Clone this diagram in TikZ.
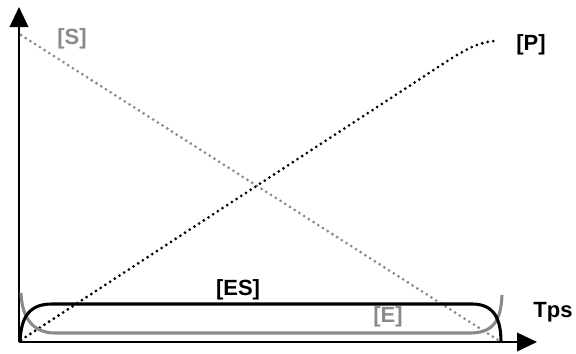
\documentclass[tikz,border=0pt]{standalone}
\usepackage{fontspec}
\setmainfont{Liberation Sans}
\usetikzlibrary{arrows.meta}
\definecolor{curvegray}{HTML}{8A8A8A}
\tikzset{
    axis/.style={line width=1.1pt,-{Triangle[length=15pt,width=14pt]}},
    dotline/.style={line width=2.3pt,line cap=round,dash pattern=on 0pt off 4.2pt},
    label/.style={font=\bfseries\fontsize{16.5}{19}\selectfont,inner sep=0pt}
}
\begin{document}
\begin{tikzpicture}[x=0.75pt,y=-0.75pt]
            \useasboundingbox (0,0) rectangle (576,354);
            % axes
            \coordinate (O) at (19,342);
            \coordinate (ytop) at (19,7);
            \coordinate (xend) at (537,342);
            \draw[axis] (O) -- (ytop);
            \draw[axis] (O) -- (xend);
            % substrate and product
            \draw[dotline,curvegray] (21,35) -- (498,340);
            \draw[dotline] (21,340) -- (420,79)
                .. controls (455,56) and (475,41) .. (497,41);
            % complex and free enzyme
            \draw[line width=2.3pt,curvegray] (21,293)
                .. controls (22,318) and (33,333) .. (55,333)
                -- (470,333)
                .. controls (492,333) and (501,322) .. (502,295);
            \draw[line width=2.3pt] (20,342)
                .. controls (21,316) and (30,304) .. (52,304)
                -- (472,304)
                .. controls (492,304) and (501,316) .. (501,342);
            % labels
            \node[label,text=curvegray] (S) at (72,39) {[S]};
            \node[label] (P) at (531,45) {[P]};
            \node[label] (ES) at (238,290) {[ES]};
            \node[label,text=curvegray] (E) at (388,317) {[E]};
            \node[label] (tps) at (553,312) {Tps};
        \end{tikzpicture}
\end{document}
